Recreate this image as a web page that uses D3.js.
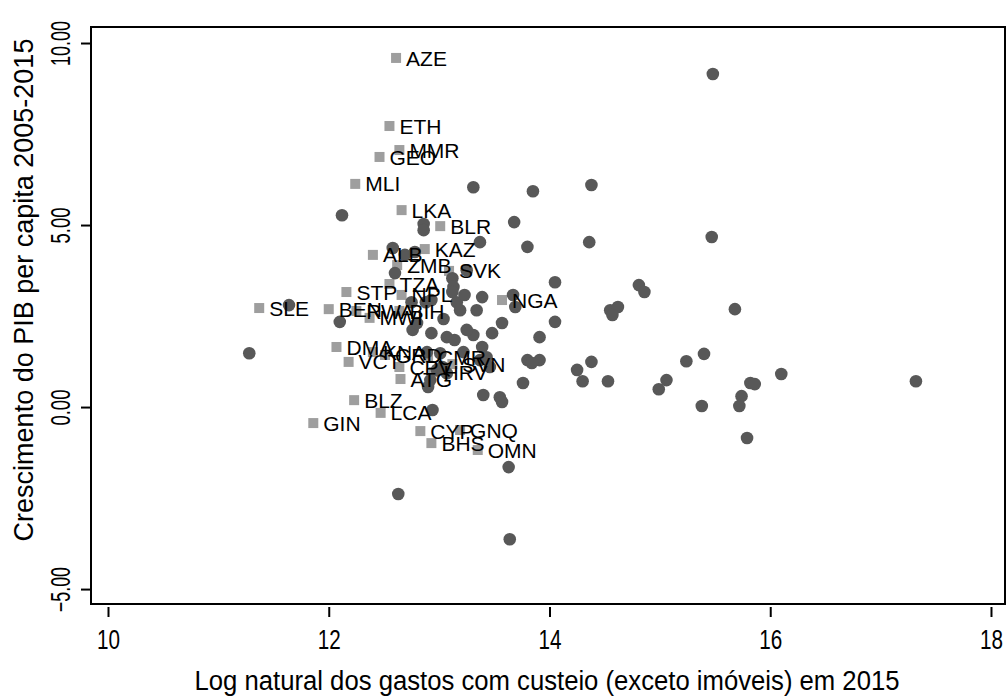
<!DOCTYPE html>
<html>
<head>
<meta charset="utf-8">
<script src="https://cdn.jsdelivr.net/npm/d3@7"></script>
<style>
  body { margin: 0; background: #fff; }
  svg { display: block; font-family: "Liberation Sans", Arial, sans-serif; }
</style>
</head>
<body>
<svg width="1008" height="697"></svg>
<script>
// labeled countries (light grey squares)
const codes = ["AZE","ETH","MMR","GEO","MLI","LKA","BLR","KAZ","ALB","ZMB","SVK","TZA","STP","NPL",
  "SLE","BEN","RWA","BIH","MWI","NGA","DMA","VCT","KNA","GRD","CMR","SVN","CPV","HRV","ATG",
  "BLZ","LCA","GIN","CYP","GNQ","BHS","OMN"];
const codeX = [12.61,12.55,12.64,12.46,12.24,12.66,13.01,12.87,12.40,12.62,13.09,12.55,12.16,12.66,
  11.37,12.00,12.25,12.64,12.37,13.57,12.07,12.18,12.40,12.51,12.90,13.12,12.64,12.95,12.65,
  12.23,12.47,11.86,12.83,13.19,12.93,13.35];
const codeY = [9.59,7.72,7.06,6.87,6.13,5.41,4.97,4.34,4.18,3.90,3.74,3.38,3.16,3.08,
  2.72,2.69,2.64,2.64,2.45,2.94,1.65,1.24,1.51,1.43,1.37,1.18,1.10,0.96,0.77,
  0.19,-0.16,-0.44,-0.66,-0.63,-0.99,-1.18];

// other countries (dark circles)
const otherX = [11.28,11.64,12.10,12.12,13.31,13.85,14.38,15.48,13.68,15.47,14.36,13.80,13.37,12.86,12.86,
  12.58,12.69,12.78,12.60,14.05,13.12,13.25,13.13,13.12,13.16,13.39,13.19,13.34,13.67,13.69,13.57,
  14.81,14.86,14.55,14.62,14.57,15.68,14.05,13.91,13.91,14.38,14.25,14.30,14.53,14.99,15.06,15.24,
  15.40,16.10,15.82,15.86,15.74,15.72,15.38,15.79,17.32,12.76,12.80,12.93,13.07,13.14,13.31,13.48,
  13.39,13.43,13.80,13.84,13.03,13.46,13.76,13.40,13.55,13.57,12.94,13.63,12.63,13.64,12.89,13.01,
  13.22,13.37,12.98,13.07,12.92,12.90,12.88,12.93,13.04,13.25,12.75,13.23];
const otherY = [1.48,2.80,2.34,5.27,6.04,5.93,6.10,9.15,5.08,4.67,4.53,4.40,4.53,5.03,4.86,
  4.37,4.18,4.26,3.68,3.43,3.54,3.76,3.30,3.16,2.88,3.02,2.66,2.66,3.08,2.75,2.31,
  3.35,3.16,2.66,2.75,2.53,2.69,2.34,1.92,1.29,1.24,1.02,0.71,0.71,0.49,0.74,1.26,
  1.46,0.91,0.66,0.63,0.30,0.03,0.03,-0.85,0.71,2.12,2.31,2.03,1.92,1.84,1.98,2.03,
  1.65,1.37,1.29,1.21,1.10,1.10,0.66,0.33,0.27,0.14,-0.08,-1.65,-2.39,-3.63,1.51,1.48,
  1.51,1.29,1.02,0.93,0.74,0.55,2.88,2.94,2.42,2.12,2.88,3.08];

const xTicks = [10, 12, 14, 16, 18];
const yTicks = [-5, 0, 5, 10];
const xTitle = "Log natural dos gastos com custeio (exceto imóveis) em 2015";
const yTitle = "Crescimento do PIB per capita 2005-2015";

const svg = d3.select("svg");
const frame = { left: 91, right: 1005, top: 27, bottom: 604 };

const x = d3.scaleLinear().domain([9.846, 18.127]).range([frame.left, frame.right]);
const y = d3.scaleLinear().domain([-5.41, 10.44]).range([frame.bottom, frame.top]);

// x axis
const xAxis = svg.append("g")
  .attr("transform", `translate(0, ${frame.bottom + 3})`)
  .call(d3.axisBottom(x).tickValues(xTicks).tickSize(10).tickPadding(12).tickFormat(d3.format("d")));
xAxis.select(".domain").remove();
xAxis.selectAll("line").attr("stroke", "#000").attr("stroke-width", 2);
xAxis.selectAll("text")
  .attr("font-size", 28)
  .attr("fill", "#000")
  .attr("textLength", 23)
  .attr("lengthAdjust", "spacingAndGlyphs")
  .attr("font-family", "Liberation Sans, Arial, sans-serif");

// y axis
const yAxis = svg.append("g")
  .attr("transform", `translate(${frame.left}, 0)`)
  .call(d3.axisLeft(y).tickValues(yTicks).tickSize(10).tickFormat(d3.format(".2f")));
yAxis.select(".domain").remove();
yAxis.selectAll("line").attr("stroke", "#000").attr("stroke-width", 2);
yAxis.selectAll("text")
  .attr("font-size", 27)
  .attr("fill", "#000")
  .attr("font-family", "Liberation Sans, Arial, sans-serif")
  .attr("text-anchor", "middle")
  .attr("dy", null)
  .attr("x", null)
  .attr("textLength", function() { return this.textContent.length * 9; })
  .attr("lengthAdjust", "spacingAndGlyphs")
  .attr("transform", "translate(-21, 0) rotate(-90)");

// plot frame
svg.append("rect")
  .attr("x", frame.left).attr("y", frame.top)
  .attr("width", frame.right - frame.left).attr("height", frame.bottom - frame.top)
  .attr("fill", "none").attr("stroke", "#000").attr("stroke-width", 2);

const labeled = codes.map((c, i) => ({ code: c, x: codeX[i], y: codeY[i] }));
const others = otherX.map((v, i) => ({ x: v, y: otherY[i] }));

svg.append("g").selectAll("rect")
  .data(labeled)
  .join("rect")
  .attr("x", d => x(d.x) - 5)
  .attr("y", d => y(d.y) - 5)
  .attr("width", 10).attr("height", 10)
  .attr("fill", "#9e9e9e");

svg.append("g").selectAll("circle")
  .data(others)
  .join("circle")
  .attr("cx", d => x(d.x))
  .attr("cy", d => y(d.y))
  .attr("r", 6.3)
  .attr("fill", "#585858");

svg.append("g").selectAll("text")
  .data(labeled)
  .join("text")
  .attr("x", d => x(d.x) + 10)
  .attr("y", d => y(d.y))
  .attr("dy", "0.36em")
  .attr("font-size", 21)
  .attr("fill", "#000")
  .text(d => d.code);

// axis titles
svg.append("text")
  .attr("x", 547).attr("y", 690)
  .attr("text-anchor", "middle")
  .attr("font-size", 27)
  .attr("textLength", 705)
  .attr("lengthAdjust", "spacingAndGlyphs")
  .text(xTitle);

svg.append("text")
  .attr("transform", "translate(33, 290) rotate(-90)")
  .attr("text-anchor", "middle")
  .attr("font-size", 27)
  .text(yTitle);
</script>
</body>
</html>
